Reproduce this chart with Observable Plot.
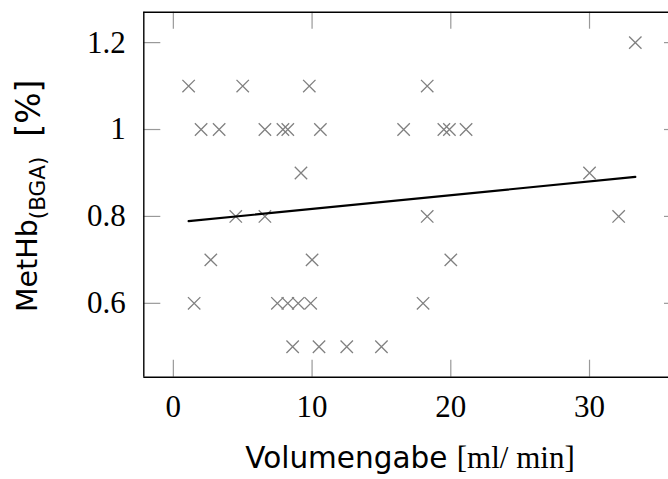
<!DOCTYPE html>
<html><head><meta charset="utf-8">
<script src="https://cdn.jsdelivr.net/npm/d3@7"></script>
<script src="https://cdn.jsdelivr.net/npm/@observablehq/plot@0.6"></script>
<style>body{margin:0;background:#fff}</style>
</head><body><div id="chart"></div>
<script>
// Data
const volumengabe = [33.3,
  1.1, 5.0, 9.8, 18.3,
  2.0, 3.3, 6.6, 7.9, 8.25, 10.6, 16.6, 19.5, 19.9, 21.1,
  9.2, 30.0,
  4.5, 6.6, 18.3, 32.1,
  2.7, 10.0, 20.0,
  1.5, 7.5, 8.25, 9.0, 9.9, 18.0,
  8.6, 10.5, 12.5, 15.0];
const methb = [1.2,
  1.1, 1.1, 1.1, 1.1,
  1.0, 1.0, 1.0, 1.0, 1.0, 1.0, 1.0, 1.0, 1.0, 1.0,
  0.9, 0.9,
  0.8, 0.8, 0.8, 0.8,
  0.7, 0.7, 0.7,
  0.6, 0.6, 0.6, 0.6, 0.6, 0.6,
  0.5, 0.5, 0.5, 0.5];
const fitX = [1.1, 33.3];
const fitY = [0.789, 0.891];
const xTicks = [0, 10, 20, 30];
const yTicks = [0.6, 0.8, 1, 1.2];
const xDomain = [-2.13, 36.63];
const yDomain = [0.43, 1.27];

const W = 668, H = 479, mL = 143.3, mT = 11.7, mB = 102.3;
const xEnd = 681;
const frameH = H - mT - mB;
const frameW = W - mL;
const tk = 17;

const points = volumengabe.map((v, i) => ({x: v, y: methb[i]}));
const fit = fitX.map((v, i) => ({x: v, y: fitY[i]}));

const chart = Plot.plot({
  width: W, height: H,
  marginLeft: mL, marginTop: mT, marginBottom: mB, marginRight: 0,
  x: {domain: xDomain, range: [mL, xEnd]},
  y: {domain: yDomain},
  style: {fontFamily: "'Liberation Serif', serif", fontSize: "31px", background: "#fff", color: "#000"},
  marks: [
    Plot.ruleX(xTicks, {stroke: "#999", strokeWidth: 1.2, insetTop: frameH - tk}),
    Plot.ruleX(xTicks, {stroke: "#999", strokeWidth: 1.2, insetBottom: frameH - tk}),
    Plot.ruleY(yTicks, {stroke: "#999", strokeWidth: 1.2, insetRight: frameW - tk}),
    Plot.ruleY(yTicks, {stroke: "#999", strokeWidth: 1.2, insetLeft: (xEnd - tk) - mL}),
    Plot.dot(points, {x: "x", y: "y", symbol: "times", r: 5.7, stroke: "#808080", strokeWidth: 1.3}),
    Plot.line(fit, {x: "x", y: "y", stroke: "#000", strokeWidth: 2.2}),
    Plot.ruleX([xDomain[0]], {stroke: "#000", strokeWidth: 1.4}),
    Plot.ruleY([yDomain[0], yDomain[1]], {stroke: "#000", strokeWidth: 1.4}),
    Plot.axisX({ticks: xTicks, tickSize: 0, tickPadding: 18, label: null, fontSize: 31, tickFormat: d => String(d)}),
    Plot.axisY({ticks: yTicks, tickSize: 0, tickPadding: 18, label: null, fontSize: 31, tickFormat: d => String(d)})
  ]
});
document.getElementById("chart").appendChild(chart);

const svg = d3.select(chart);
const xt = svg.append("text")
  .attr("x", 410).attr("y", 468).attr("text-anchor", "middle").attr("fill", "#000");
xt.append("tspan").attr("font-family", "'DejaVu Sans', sans-serif").attr("font-size", 29.5).text("Volumengabe ");
xt.append("tspan").attr("font-family", "'Liberation Serif', serif").attr("font-size", 31).text("[ml/ min]");

const yt = svg.append("text")
  .attr("transform", "translate(37,312) rotate(-90)").attr("text-anchor", "start").attr("fill", "#000")
  .attr("font-family", "'DejaVu Sans', sans-serif");
yt.append("tspan").attr("font-size", 28.5).text("MetHb");
yt.append("tspan").attr("font-size", 21.5).attr("dy", 8).text("(BGA)");
yt.append("tspan").attr("font-size", 33).attr("dy", -5).attr("dx", 20).text("[%]");
</script>
</body></html>
